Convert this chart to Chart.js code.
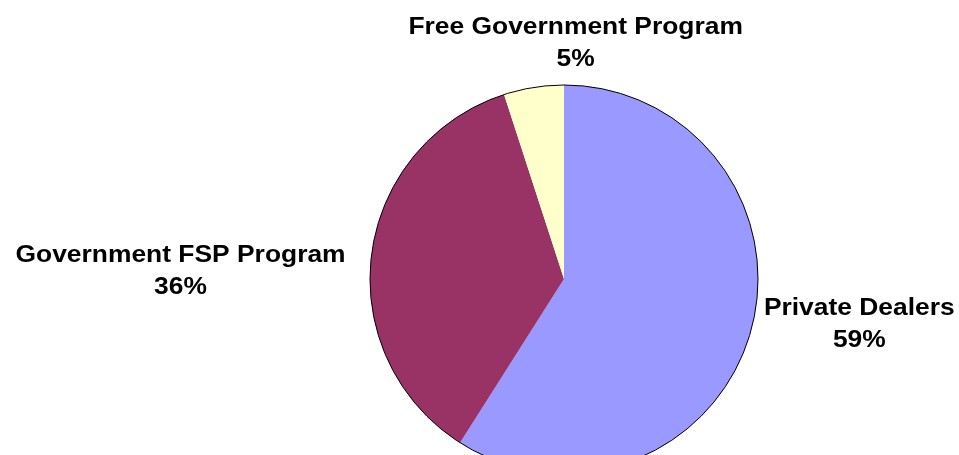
<!DOCTYPE html>
<html>
<head>
<meta charset="utf-8">
<script src="https://cdn.jsdelivr.net/npm/chart.js@4"></script>
<style>
  html, body { margin: 0; padding: 0; background: #fff; }
  body { width: 959px; height: 455px; overflow: hidden; }
  canvas { display: block; }
</style>
</head>
<body>
<canvas id="chartFuentes" width="959" height="500"></canvas>
<script>
const categorias = ['Private Dealers', 'Government FSP Program', 'Free Government Program'];
const valores = [59, 36, 5];
const colores = ['#9999FF', '#993366', '#FFFFCC'];
// label block offsets from the slice edge point (style only)
const labelOffsets = [[109, -9], [-191, 17], [42, -44]];

const outlinePlugin = {
  id: 'outline',
  afterDatasetsDraw(chart) {
    const arc = chart.getDatasetMeta(0).data[0];
    if (!arc) return;
    const ctx = chart.ctx;
    ctx.save();
    ctx.beginPath();
    ctx.arc(arc.x, arc.y, arc.outerRadius, 0, Math.PI * 2);
    ctx.strokeStyle = '#000';
    ctx.lineWidth = 1;
    ctx.stroke();
    ctx.restore();
  }
};

const labelPlugin = {
  id: 'sliceLabels',
  afterDraw(chart) {
    const meta = chart.getDatasetMeta(0);
    const total = valores.reduce((a, b) => a + b, 0);
    const ctx = chart.ctx;
    ctx.save();
    ctx.fillStyle = '#000';
    ctx.font = 'bold 24px "Liberation Sans", Arial, sans-serif';
    ctx.textAlign = 'center';
    ctx.textBaseline = 'middle';
    meta.data.forEach((arc, i) => {
      const mid = (arc.startAngle + arc.endAngle) / 2;
      const ex = arc.x + Math.cos(mid) * arc.outerRadius;
      const ey = arc.y + Math.sin(mid) * arc.outerRadius;
      const cx = ex + labelOffsets[i][0];
      const cy = ey + labelOffsets[i][1];
      const lines = [categorias[i], Math.round(valores[i] / total * 100) + '%'];
      lines.forEach((t, j) => {
        ctx.save();
        ctx.translate(cx, cy + (j - 0.5) * 32);
        ctx.scale(1.1, 1);
        ctx.fillText(t, 0, 0);
        ctx.restore();
      });
    });
    ctx.restore();
  }
};

new Chart(document.getElementById('chartFuentes'), {
  type: 'pie',
  data: {
    labels: categorias,
    datasets: [
      {
        data: valores,
        backgroundColor: colores,
        borderWidth: 0
      }
    ]
  },
  options: {
    responsive: false,
    animation: false,
    layout: {
      padding: { top: 85, bottom: 27, left: 370, right: 201 }
    },
    plugins: {
      legend: { display: false },
      tooltip: { enabled: false }
    }
  },
  plugins: [outlinePlugin, labelPlugin]
});
</script>
</body>
</html>
